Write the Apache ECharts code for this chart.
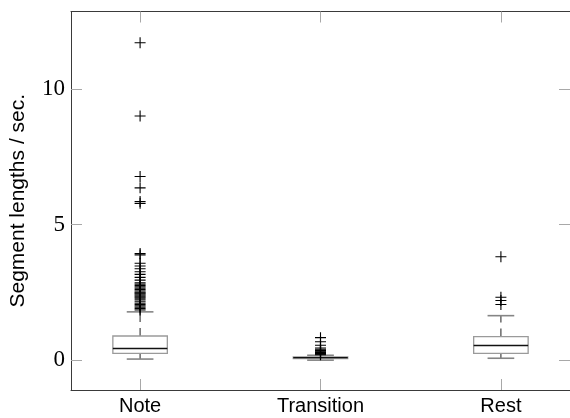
<!DOCTYPE html>
<html>
<head>
<meta charset="utf-8">
<script src="https://cdn.jsdelivr.net/npm/echarts@6/dist/echarts.min.js"></script>
<style>html,body{margin:0;padding:0;background:#fff}#c{width:570px;height:418px}</style>
</head>
<body>
<div id="c"></div>
<script>
const categories = ['Note', 'Transition', 'Rest'];
const whiskerLow = [0.04, 0.0, 0.07];
const quartile1 = [0.25, 0.06, 0.25];
const medians = [0.43, 0.09, 0.54];
const quartile3 = [0.89, 0.12, 0.87];
const whiskerHigh = [1.78, 0.18, 1.64];
const outliersNote = [11.7, 9.0, 6.77, 6.35, 5.85, 5.78, 3.93, 3.88, 3.57, 3.47, 3.37, 3.26, 3.16, 3.05, 2.95,
  2.85, 2.8, 2.75, 2.7, 2.65, 2.6, 2.55, 2.5, 2.47, 2.44, 2.4, 2.36, 2.32, 2.28, 2.22, 2.15, 2.1, 2.05, 2.0, 1.95, 1.9, 1.85];
const outliersTransition = [0.2, 0.22, 0.25, 0.28, 0.3, 0.33, 0.36, 0.4, 0.45, 0.55, 0.68, 0.83];
const outliersRest = [3.81, 2.32, 2.2, 2.05];
const yTicks = [0, 5, 10];
const xTicks = [0, 1, 2];

const boxData = categories.map((c, i) => [i, whiskerLow[i], quartile1[i], medians[i], quartile3[i], whiskerHigh[i]]);
const outlierData = [];
[outliersNote, outliersTransition, outliersRest].forEach((arr, i) => arr.forEach(v => outlierData.push([i, v])));

const BOX_W = 0.302, CAP_W = 0.148;

function renderBox(params, api) {
  const x = api.value(0);
  const lo = api.coord([x, api.value(1)]);
  const b1 = api.coord([x, api.value(2)]);
  const md = api.coord([x, api.value(3)]);
  const b3 = api.coord([x, api.value(4)]);
  const hi = api.coord([x, api.value(5)]);
  const hw = api.size([BOX_W, 0])[0] / 2;
  const cw = api.size([CAP_W, 0])[0] / 2;
  const cx = md[0];
  const whisk = {stroke: '#333', lineWidth: 1.1, lineDash: [8, 6]};
  const cap = {stroke: '#858585', lineWidth: 1.6};
  return {
    type: 'group',
    children: [
      {type: 'line', shape: {x1: cx, y1: b3[1], x2: cx, y2: hi[1]}, style: whisk},
      {type: 'line', shape: {x1: cx, y1: b1[1], x2: cx, y2: lo[1]}, style: whisk},
      {type: 'line', shape: {x1: cx - cw, y1: hi[1], x2: cx + cw, y2: hi[1]}, style: cap},
      {type: 'line', shape: {x1: cx - cw, y1: lo[1], x2: cx + cw, y2: lo[1]}, style: cap},
      {type: 'rect', shape: {x: cx - hw, y: b3[1], width: 2 * hw, height: b1[1] - b3[1]}, style: {stroke: '#9a9a9a', lineWidth: 1.3, fill: '#fff'}},
      {type: 'line', shape: {x1: cx - hw, y1: md[1], x2: cx + hw, y2: md[1]}, style: {stroke: '#111', lineWidth: 1.3}}
    ]
  };
}

const tickStyle = {show: true, inside: true, length: 11, lineStyle: {color: '#a8a8a8', width: 1}};
const lineStyle = {show: true, onZero: false, lineStyle: {color: '#3a3a3a', width: 1}};

const chart = echarts.init(document.getElementById('c'), null, {renderer: 'canvas'});
chart.setOption({
  animation: false,
  grid: {left: 67.5, top: 11.5, width: 505.5, height: 378.5},
  xAxis: [
    {type: 'value', min: -0.383, max: 2.383, position: 'bottom', splitLine: {show: false},
      axisLine: lineStyle, axisTick: Object.assign({customValues: xTicks}, tickStyle),
      axisLabel: {customValues: xTicks, formatter: v => categories[Math.round(v)] || '', color: '#000',
        fontFamily: 'Liberation Sans', fontSize: 20, margin: 6}},
    {type: 'value', min: -0.383, max: 2.383, position: 'top', splitLine: {show: false},
      axisLine: lineStyle, axisTick: Object.assign({customValues: xTicks}, tickStyle), axisLabel: {show: false}}
  ],
  yAxis: [
    {type: 'value', min: -1.1, max: 12.85, position: 'left', splitLine: {show: false},
      axisLine: lineStyle, axisTick: Object.assign({customValues: yTicks}, tickStyle),
      axisLabel: {customValues: yTicks, color: '#000', fontFamily: 'Liberation Serif', fontSize: 23, margin: 6},
      name: 'Segment lengths / sec.', nameLocation: 'middle', nameGap: 42,
      nameTextStyle: {fontFamily: 'Liberation Sans', fontSize: 21, color: '#000'}},
    {type: 'value', min: -1.1, max: 12.85, position: 'right', splitLine: {show: false},
      axisLine: lineStyle, axisTick: Object.assign({customValues: yTicks}, tickStyle), axisLabel: {show: false}}
  ],
  series: [
    {type: 'custom', xAxisIndex: 0, yAxisIndex: 0, data: boxData, renderItem: renderBox, silent: true,
      encode: {x: 0, y: [1, 2, 3, 4, 5]}},
    {type: 'scatter', xAxisIndex: 0, yAxisIndex: 0, data: outlierData, silent: true,
      symbol: 'path://M0,5L10,5M5,0L5,10', symbolSize: 11,
      itemStyle: {color: 'rgba(0,0,0,0)', borderColor: '#000', borderWidth: 1.1, opacity: 1}}
  ]
});
</script>
</body>
</html>
